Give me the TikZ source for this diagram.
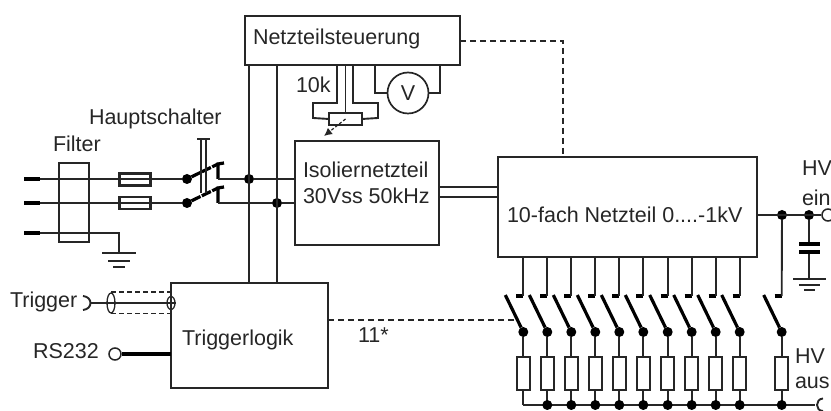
\documentclass[tikz,border=0pt]{standalone}
\usepackage{fontspec}
\setmainfont{Liberation Sans}
\usetikzlibrary{arrows.meta,shapes.geometric}
\tikzset{
  wire/.style={line width=1.9,color=black!85},
  heavy/.style={line width=3.2,color=black},
  dashwire/.style={line width=1.7,color=black!85,dash pattern=on 6pt off 4pt},
  blockbox/.style={draw=black!85,line width=1.9,inner sep=0,outer sep=0,anchor=north west},
  fusebox/.style={draw=black!85,line width=2.2,inner sep=0,outer sep=0,minimum width=31,minimum height=12},
  resbox/.style={draw=black!85,line width=1.7,fill=white,inner sep=0,outer sep=0,minimum width=13,minimum height=33},
  dot/.style={circle,fill=black,inner sep=0,outer sep=0,minimum size=10},
  label/.style={inner sep=0,outer sep=0,anchor=west,font=\fontsize{21.5}{24}\selectfont,color=black!85},
}
\begin{document}
\begin{tikzpicture}[x=1pt,y=-1pt]
\useasboundingbox (0,0) rectangle (831,411);
% blocks
\node[blockbox,minimum width=215,minimum height=49] (steuerung) at (245,16) {};
\node[blockbox,minimum width=144,minimum height=104] (isolier) at (295,141) {};
\node[blockbox,minimum width=259,minimum height=100] (netzteil) at (498,157) {};
\node[blockbox,minimum width=157,minimum height=105] (trigger) at (171,283) {};
\node[blockbox,line width=1.5,minimum width=30,minimum height=79] (filter) at (59,163) {};
\node[label] (tsteuerung) at (253,39) {Netzteilsteuerung};
\node[label] (tisolier) at (303,170) {Isoliernetzteil};
\node[label] (tisolierb) at (303,196) {30Vss 50kHz};
\node[label] (tnetzteil) at (507,215) {10-fach Netzteil 0....-1kV};
\node[label] (ttrigger) at (182,340) {Triggerlogik};
\node[label] (tfilter) at (53,144) {Filter};
\node[label] (thaupt) at (89,119) {Hauptschalter};
\node[label] (tzehnk) at (296,85) {10k};
\node[label] (televen) at (358,335) {11*};
\node[label] (ttrig) at (10,302) {Trigger};
\node[label] (trs) at (33,351) {RS232};
\node[label] (theina) at (802,168) {HV};
\node[label] (theinb) at (802,198) {ein};
\node[label] (thausa) at (795,356) {HV};
\node[label] (thausb) at (795,383) {aus};
% mains input
\foreach \n/\y in {a/179,b/203,c/233} {
  \coordinate (in\n) at (24,\y);
  \coordinate (st\n) at (40,\y);
  \draw[heavy,line width=4.5] (in\n) -- (st\n);
}
\node[fusebox] (fusea) at (135,179.5) {};
\node[fusebox] (fuseb) at (135,203) {};
\node[dot] (piva) at (187,179) {};
\node[dot] (pivb) at (187,203) {};
\node[dot] (juna) at (249,179) {};
\node[dot] (junb) at (277,203) {};
\draw[wire] (sta) -- (piva);
\draw[wire] (stb) -- (pivb);
% main switch
\coordinate (conta) at (218,179);
\coordinate (contb) at (218,203);
\coordinate (topa) at (218,164);
\coordinate (topb) at (218,188);
\draw[heavy,dash pattern=on 10pt off 1.5pt] (piva) -- (topa);
\draw[heavy,dash pattern=on 10pt off 1.5pt] (pivb) -- (topb);
\draw[heavy] (conta) -- (topa) -- ++(6,-1);
\draw[heavy] (contb) -- (topb) -- ++(6,-1);
\draw[wire] (conta) -- (juna) -- (isolier.west |- juna);
\draw[wire] (contb) -- (junb) -- (isolier.west |- junb);
\coordinate (linka) at (201,139);
\coordinate (linkb) at (206,139);
\draw[wire,line width=1.3] (linka) -- (201,193) (linkb) -- (206,193);
\draw[wire] (197,139) -- (210,139);
% earth
\coordinate (gnda) at (119,253);
\draw[wire] (stc) -- (119,233) -- (gnda);
\draw[wire] (102,253) -- (136,253) (108,261) -- (130,261) (113,267) -- (125,267);
% supply rails
\draw[wire] (juna |- steuerung.south) -- (juna |- trigger.north);
\draw[wire] (junb |- steuerung.south) -- (junb |- trigger.north);
% potentiometer
\node[draw=black!85,line width=1.7,inner sep=0,outer sep=0,minimum width=33,minimum height=12] (pot) at (345.5,119) {};
\draw[wire] (337,65) -- (337,103) -- (313,103) -- (313,118) -- (pot.west);
\draw[wire] (353,65) -- (353,103) -- (378,103) -- (378,118) -- (pot.east);
\draw[wire] (345.5,65) -- (pot.north);
\coordinate (wiper) at (324,136);
\draw[wire,line width=1.2,densely dashed,-{Latex[length=8pt,width=8pt]}] (pot.center) -- (wiper);
% voltmeter
\node[circle,draw=black!85,line width=1.7,inner sep=0,outer sep=0,minimum size=41] (volt) at (408,93) {};
\node[font=\fontsize{21.5}{24}\selectfont,color=black!85,inner sep=0] (tvolt) at (408,93) {V};
\draw[wire] (375,65) -- (375,93) -- (volt.west);
\draw[wire] (440,65) -- (440,93) -- (volt.east);
% control and isolating links
\coordinate (corner) at (563,41);
\draw[dashwire] (steuerung.east |- corner) -- (corner) -- (corner |- netzteil.north);
\draw[wire] (isolier.east |- 0,187) -- (netzteil.west |- 0,187);
\draw[wire] (isolier.east |- 0,197) -- (netzteil.west |- 0,197);
% trigger inputs
\coordinate (trgin) at (91,303);
\draw[wire] (83,296) .. controls (93,297) and (93,309) .. (83,310);
\node[draw=black!85,line width=1.3,ellipse,inner sep=0,minimum width=8,minimum height=20] (shield) at (111,303) {};
\node[draw=black!85,line width=1.3,ellipse,inner sep=0,minimum width=8,minimum height=13] (shieldb) at (171,303) {};
\draw[wire] (trgin) -- (shieldb.east);
\draw[dashwire,dash pattern=on 5pt off 3pt] (shield.north) -- (shieldb.north |- shield.north);
\draw[dashwire,dash pattern=on 5pt off 3pt] (shield.south) -- (shieldb.south |- shield.south);
\node[circle,draw=black!85,line width=1.5,inner sep=0,minimum size=12] (rsin) at (115,354) {};
\draw[heavy] (rsin.east) -- (trigger.west |- rsin);
% switch bank
\coordinate (busl) at (523.3,405);
\coordinate (busr) at (815,405);
\draw[wire] (busl) -- (busr);
\draw[wire] (823,398.5) .. controls (815,399) and (815,411) .. (823,411);
\foreach \i/\x in {1/523.3,2/547.3,3/571.3,4/595.3,5/619.3,6/643.3,7/667.7,8/691.7,9/715.7,10/739.7,11/781.7} {
  \node[dot] (piv\i) at (\x,332) {};
  \node[resbox] (res\i) at (\x,373.5) {};
  \coordinate (bus\i) at (\x,405);
  \coordinate (lev\i) at (\x-18,295);
  \coordinate (cnt\i) at (\x,296);
  \draw[wire] (piv\i) -- (res\i.north);
  \draw[wire] (res\i.south) -- (bus\i);
  \draw[heavy] (piv\i) -- (lev\i);
  \draw[heavy] (\x-7,296) -- (cnt\i);
}
\foreach \i in {2,...,11} {
  \node[dot] (jb\i) at (bus\i) {};
}
\foreach \i in {1,...,10} {
  \draw[wire] (netzteil.south -| cnt\i) -- (cnt\i);
}
\coordinate (trgout) at (517,320);
\draw[dashwire] (trigger.east |- trgout) -- (trgout);
% high voltage output
\node[dot] (hva) at (782,215) {};
\node[dot] (hvb) at (809,215) {};
\node[circle,draw=black!85,line width=1.5,inner sep=0,minimum size=12] (hvin) at (828,215) {};
\draw[wire] (netzteil.east |- hva) -- (hvin.west);
\draw[wire] (hva) -- (cnt11);
\coordinate (capa) at (809,244);
\coordinate (capb) at (809,252);
\draw[wire] (hvb) -- (capa) (capb) -- (809,279);
\draw[heavy] (799,244) -- (820,244) (799,252) -- (820,252);
\draw[wire] (793,279) -- (826,279) (799,285) -- (820,285) (804,290) -- (815,290);
\end{tikzpicture}
\end{document}
